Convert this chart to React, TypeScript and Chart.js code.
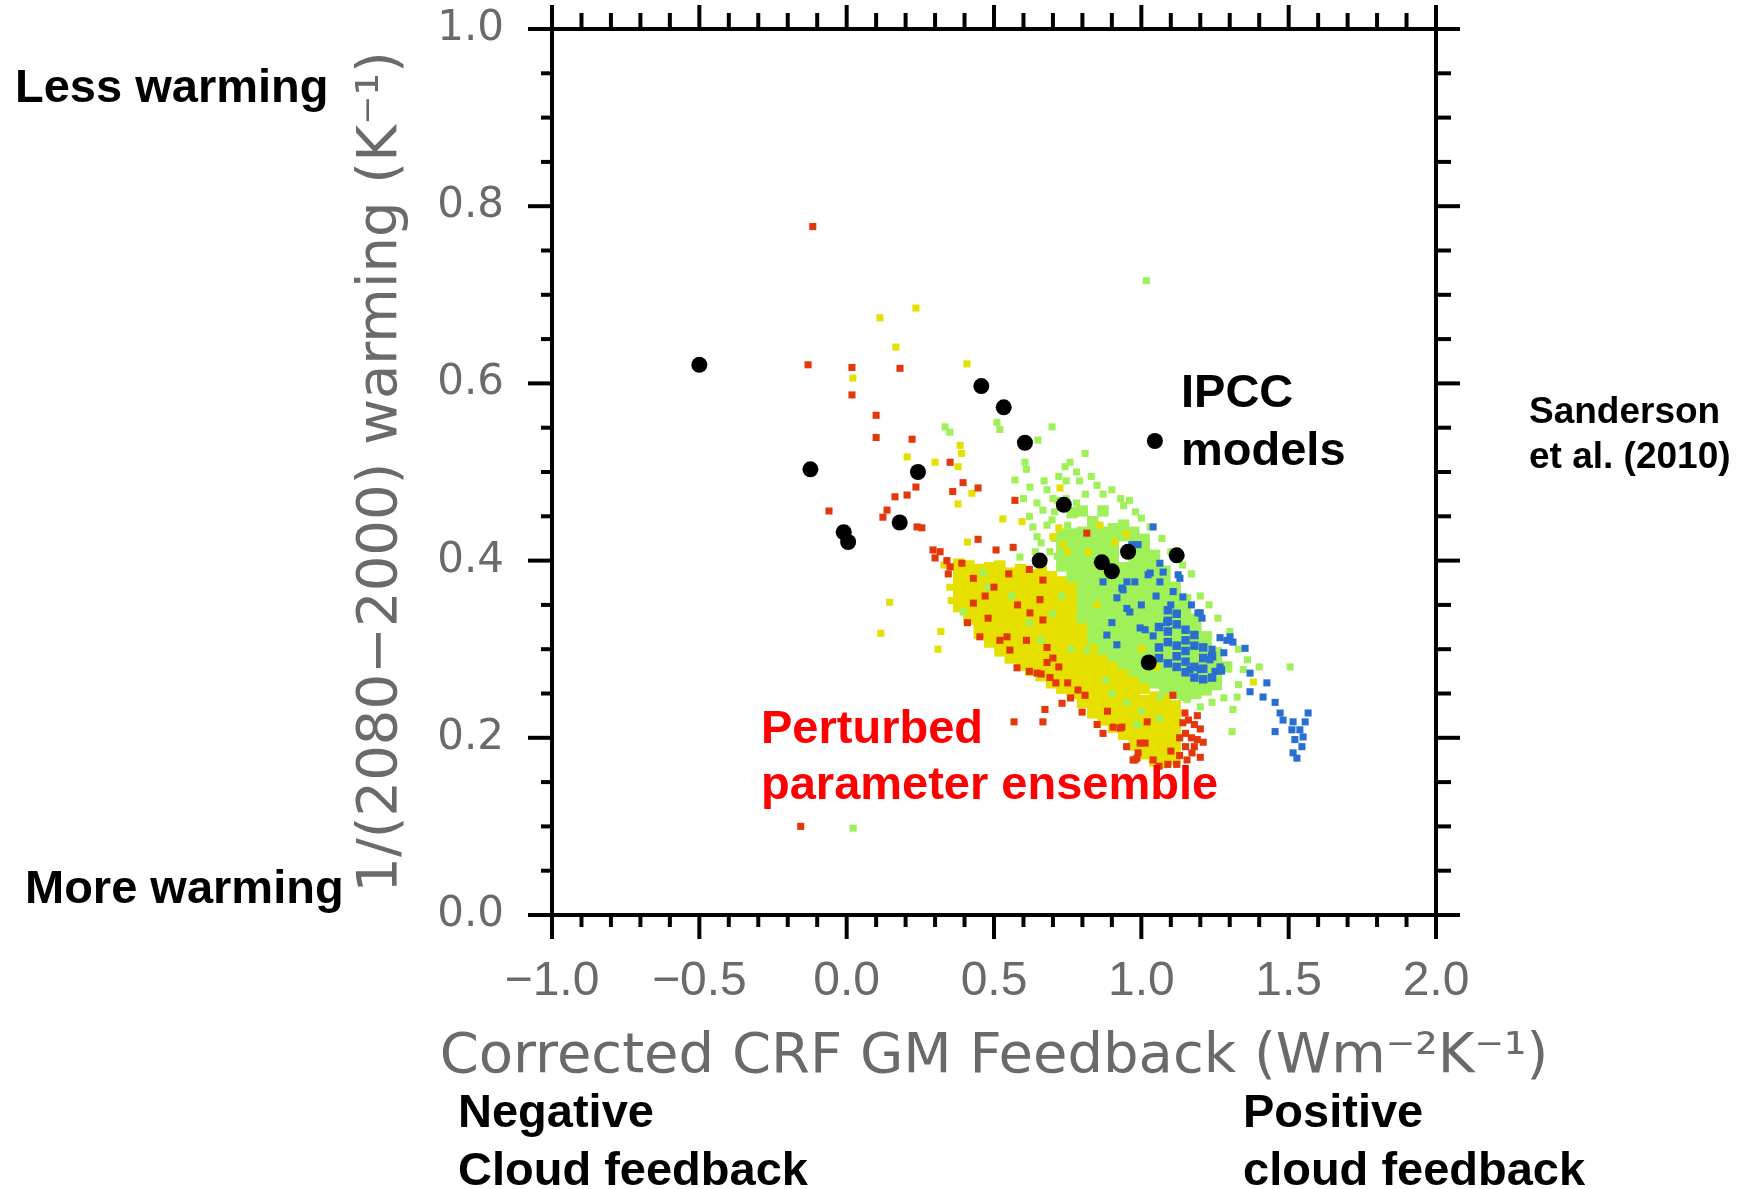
import React, { useEffect, useRef } from "react";
import { Chart, registerables } from "chart.js";

Chart.register(...registerables);

// ---------- tick labels & titles ----------
const X_TICKS = [-1, -0.5, 0, 0.5, 1, 1.5, 2];
const X_TICK_LABELS = ["\u22121.0", "\u22120.5", "0.0", "0.5", "1.0", "1.5", "2.0"];
const Y_TICKS = [0, 0.2, 0.4, 0.6, 0.8, 1.0];
const Y_TICK_LABELS = ["0.0", "0.2", "0.4", "0.6", "0.8", "1.0"];
const X_TITLE = "Corrected CRF GM Feedback (Wm\u207B\u00B2K\u207B\u00B9)";
const Y_TITLE = "1/(2080\u22122000) warming (K\u207B\u00B9)";

// ---------- data: [CRF feedback, 1/warming] ----------
const IPCC_MODELS: [number, number][] = [
  [-0.5, 0.621], [-0.123, 0.503], [-0.01, 0.432], [0.005, 0.421], [0.18, 0.443],
  [0.242, 0.5], [0.457, 0.597], [0.533, 0.573], [0.605, 0.533], [0.737, 0.463],
  [0.655, 0.4], [0.866, 0.398], [0.9, 0.388], [0.955, 0.41], [1.12, 0.406],
  [1.046, 0.535], [1.025, 0.285],
];

const YELLOW_CORE: [number, number][] = [
  [0.38, 0.348], [0.38, 0.36], [0.38, 0.372], [0.38, 0.384], [0.38, 0.396],
  [0.415, 0.334], [0.415, 0.346], [0.415, 0.358], [0.415, 0.37], [0.415, 0.382], [0.415, 0.394],
  [0.45, 0.318], [0.45, 0.33], [0.45, 0.342], [0.45, 0.354], [0.45, 0.366], [0.45, 0.378], [0.45, 0.39],
  [0.485, 0.308], [0.485, 0.32], [0.485, 0.332], [0.485, 0.344], [0.485, 0.356], [0.485, 0.368], [0.485, 0.38], [0.485, 0.392],
  [0.52, 0.298], [0.52, 0.31], [0.52, 0.322], [0.52, 0.334], [0.52, 0.346], [0.52, 0.358], [0.52, 0.37], [0.52, 0.382], [0.52, 0.394],
  [0.555, 0.29], [0.555, 0.302], [0.555, 0.314], [0.555, 0.326], [0.555, 0.338], [0.555, 0.35], [0.555, 0.362], [0.555, 0.374], [0.555, 0.386],
  [0.59, 0.282], [0.59, 0.294], [0.59, 0.306], [0.59, 0.318], [0.59, 0.33], [0.59, 0.342], [0.59, 0.354], [0.59, 0.366], [0.59, 0.378], [0.59, 0.39],
  [0.625, 0.276], [0.625, 0.288], [0.625, 0.3], [0.625, 0.312], [0.625, 0.324], [0.625, 0.336], [0.625, 0.348], [0.625, 0.36], [0.625, 0.372], [0.625, 0.384],
  [0.66, 0.27], [0.66, 0.282], [0.66, 0.294], [0.66, 0.306], [0.66, 0.318], [0.66, 0.33], [0.66, 0.342], [0.66, 0.354], [0.66, 0.366], [0.66, 0.378], [0.66, 0.39],
  [0.695, 0.262], [0.695, 0.274], [0.695, 0.286], [0.695, 0.298], [0.695, 0.31], [0.695, 0.322], [0.695, 0.334], [0.695, 0.346], [0.695, 0.358], [0.695, 0.37], [0.695, 0.382],
  [0.73, 0.256], [0.73, 0.268], [0.73, 0.28], [0.73, 0.292], [0.73, 0.304], [0.73, 0.316], [0.73, 0.328], [0.73, 0.34], [0.73, 0.352], [0.73, 0.364], [0.73, 0.376],
  [0.765, 0.25], [0.765, 0.262], [0.765, 0.274], [0.765, 0.286], [0.765, 0.298], [0.765, 0.31], [0.765, 0.322], [0.765, 0.334], [0.765, 0.346], [0.765, 0.358], [0.765, 0.37],
  [0.8, 0.24], [0.8, 0.252], [0.8, 0.264], [0.8, 0.276], [0.8, 0.288], [0.8, 0.3], [0.8, 0.312], [0.8, 0.324],
  [0.835, 0.228], [0.835, 0.24], [0.835, 0.252], [0.835, 0.264], [0.835, 0.276], [0.835, 0.288], [0.835, 0.3],
  [0.87, 0.22], [0.87, 0.232], [0.87, 0.244], [0.87, 0.256], [0.87, 0.268], [0.87, 0.28], [0.87, 0.29],
  [0.905, 0.212], [0.905, 0.224], [0.905, 0.236], [0.905, 0.248], [0.905, 0.26], [0.905, 0.272], [0.905, 0.282],
  [0.94, 0.204], [0.94, 0.216], [0.94, 0.228], [0.94, 0.24], [0.94, 0.252], [0.94, 0.264], [0.94, 0.274],
  [0.975, 0.192], [0.975, 0.204], [0.975, 0.216], [0.975, 0.228], [0.975, 0.24], [0.975, 0.252], [0.975, 0.264],
  [1.01, 0.182], [1.01, 0.194], [1.01, 0.206], [1.01, 0.218], [1.01, 0.23], [1.01, 0.242], [1.01, 0.256],
  [1.045, 0.174], [1.045, 0.186], [1.045, 0.198], [1.045, 0.21], [1.045, 0.222], [1.045, 0.234], [1.045, 0.246],
  [1.08, 0.172], [1.08, 0.184], [1.08, 0.196], [1.08, 0.208], [1.08, 0.22], [1.08, 0.232], [1.08, 0.244],
  [1.115, 0.176], [1.115, 0.188], [1.115, 0.2], [1.115, 0.212], [1.115, 0.224], [1.115, 0.236],
];

const GREEN_CORE: [number, number][] = [
  [0.73, 0.394], [0.73, 0.406], [0.73, 0.418], [0.73, 0.43],
  [0.765, 0.382], [0.765, 0.394], [0.765, 0.406], [0.765, 0.418], [0.765, 0.43], [0.765, 0.454],
  [0.8, 0.336], [0.8, 0.348], [0.8, 0.36], [0.8, 0.372], [0.8, 0.384], [0.8, 0.396], [0.8, 0.408], [0.8, 0.42], [0.8, 0.432], [0.8, 0.456],
  [0.835, 0.312], [0.835, 0.324], [0.835, 0.336], [0.835, 0.348], [0.835, 0.36], [0.835, 0.372], [0.835, 0.384], [0.835, 0.396], [0.835, 0.408], [0.835, 0.42], [0.835, 0.432], [0.835, 0.444],
  [0.87, 0.3], [0.87, 0.312], [0.87, 0.324], [0.87, 0.336], [0.87, 0.348], [0.87, 0.36], [0.87, 0.372], [0.87, 0.384], [0.87, 0.408], [0.87, 0.42], [0.87, 0.432], [0.87, 0.456],
  [0.905, 0.292], [0.905, 0.304], [0.905, 0.316], [0.905, 0.328], [0.905, 0.34], [0.905, 0.352], [0.905, 0.364], [0.905, 0.376], [0.905, 0.4], [0.905, 0.412], [0.905, 0.424], [0.905, 0.436],
  [0.94, 0.284], [0.94, 0.296], [0.94, 0.308], [0.94, 0.32], [0.94, 0.332], [0.94, 0.344], [0.94, 0.356], [0.94, 0.368], [0.94, 0.38], [0.94, 0.392], [0.94, 0.428], [0.94, 0.44],
  [0.975, 0.276], [0.975, 0.288], [0.975, 0.3], [0.975, 0.312], [0.975, 0.324], [0.975, 0.336], [0.975, 0.348], [0.975, 0.36], [0.975, 0.372], [0.975, 0.384], [0.975, 0.396], [0.975, 0.408], [0.975, 0.42], [0.975, 0.432],
  [1.01, 0.268], [1.01, 0.28], [1.01, 0.292], [1.01, 0.304], [1.01, 0.316], [1.01, 0.328], [1.01, 0.34], [1.01, 0.352], [1.01, 0.364], [1.01, 0.376], [1.01, 0.388], [1.01, 0.4], [1.01, 0.412], [1.01, 0.424],
  [1.045, 0.262], [1.045, 0.274], [1.045, 0.286], [1.045, 0.298], [1.045, 0.31], [1.045, 0.322], [1.045, 0.334], [1.045, 0.346], [1.045, 0.358], [1.045, 0.37], [1.045, 0.382], [1.045, 0.394], [1.045, 0.406],
  [1.08, 0.256], [1.08, 0.268], [1.08, 0.28], [1.08, 0.292], [1.08, 0.304], [1.08, 0.316], [1.08, 0.328], [1.08, 0.34], [1.08, 0.352], [1.08, 0.364], [1.08, 0.376], [1.08, 0.388],
  [1.115, 0.25], [1.115, 0.262], [1.115, 0.274], [1.115, 0.286], [1.115, 0.298], [1.115, 0.31], [1.115, 0.322], [1.115, 0.334], [1.115, 0.346], [1.115, 0.358], [1.115, 0.37],
  [1.15, 0.248], [1.15, 0.26], [1.15, 0.272], [1.15, 0.284], [1.15, 0.296], [1.15, 0.308], [1.15, 0.32], [1.15, 0.332], [1.15, 0.344], [1.15, 0.356],
  [1.185, 0.25], [1.185, 0.262], [1.185, 0.274], [1.185, 0.286], [1.185, 0.298], [1.185, 0.31], [1.185, 0.322], [1.185, 0.334],
  [1.22, 0.254], [1.22, 0.266], [1.22, 0.278], [1.22, 0.29], [1.22, 0.302], [1.22, 0.314],
  [1.255, 0.26], [1.255, 0.272], [1.255, 0.284], [1.255, 0.296],
  [1.29, 0.28],
];

const BLUE_CORE: [number, number][] = [
  [1.06, 0.29], [1.06, 0.302], [1.06, 0.325],
  [1.09, 0.284], [1.09, 0.308], [1.09, 0.32], [1.09, 0.332], [1.09, 0.344],
  [1.12, 0.28], [1.12, 0.292], [1.12, 0.304], [1.12, 0.328], [1.12, 0.34],
  [1.15, 0.274], [1.15, 0.286], [1.15, 0.298], [1.15, 0.31], [1.15, 0.322],
  [1.18, 0.268], [1.18, 0.28], [1.18, 0.304], [1.18, 0.316],
  [1.21, 0.266], [1.21, 0.278], [1.21, 0.29], [1.21, 0.302],
  [1.24, 0.268], [1.24, 0.292],
  [1.27, 0.276],
];

const BLUE_SCATTER: [number, number][] = [
  [1.04, 0.438], [0.989, 0.418], [0.968, 0.418], [1.125, 0.384], [1.063, 0.397], [1.074, 0.387],
  [1.023, 0.384], [0.951, 0.376], [0.978, 0.376], [0.934, 0.369], [0.87, 0.376], [0.917, 0.358],
  [0.951, 0.346], [1.141, 0.359], [1.2, 0.341], [1.206, 0.335], [1.03, 0.386], [1.131, 0.38],
  [1.063, 0.376], [0.938, 0.367], [0.961, 0.342], [0.996, 0.324], [1.013, 0.322], [0.883, 0.316],
  [0.917, 0.305], [1.192, 0.341], [1.267, 0.313], [1.29, 0.31], [1.311, 0.308], [1.352, 0.301],
  [1.301, 0.314], [1.233, 0.288], [1.267, 0.28], [1.165, 0.277], [1.2, 0.277], [1.25, 0.275],
  [1.369, 0.273], [1.426, 0.262], [1.369, 0.252], [1.413, 0.246], [1.454, 0.24], [1.471, 0.228],
  [1.481, 0.22], [1.515, 0.218], [1.566, 0.228], [1.538, 0.209], [1.511, 0.209], [1.454, 0.207],
  [1.521, 0.198], [1.549, 0.201], [1.515, 0.183], [1.528, 0.177], [1.556, 0.218], [1.545, 0.19],
  [1.086, 0.33], [1.0, 0.35], [0.9, 0.33], [1.05, 0.36], [1.108, 0.365], [1.17, 0.35],
  [1.24, 0.3], [1.28, 0.296], [1.04, 0.315], [1.1, 0.35],
];

const RED_SCATTER: [number, number][] = [
  [-0.115, 0.777], [-0.156, 0.1], [-0.131, 0.621], [0.018, 0.618], [0.181, 0.617], [0.018, 0.587],
  [0.1, 0.564], [0.1, 0.539], [0.222, 0.537], [0.351, 0.511], [-0.06, 0.456], [0.235, 0.483],
  [0.395, 0.488], [0.36, 0.478], [0.446, 0.482], [0.164, 0.472], [0.205, 0.474], [0.137, 0.457],
  [0.123, 0.449], [0.239, 0.438], [0.255, 0.437], [0.571, 0.468], [0.317, 0.41], [0.3, 0.403],
  [0.351, 0.393], [0.446, 0.424], [0.507, 0.412], [0.565, 0.415], [0.815, 0.431], [0.568, 0.218],
  [0.293, 0.412], [0.34, 0.4], [0.345, 0.385], [0.391, 0.397], [0.43, 0.352], [0.452, 0.314],
  [0.41, 0.33], [0.544, 0.314], [0.554, 0.299], [0.578, 0.279], [0.61, 0.31], [0.666, 0.333],
  [0.68, 0.302], [0.68, 0.285], [0.69, 0.268], [0.7, 0.29], [0.72, 0.28], [0.71, 0.262],
  [0.66, 0.272], [0.62, 0.275], [0.785, 0.254], [0.809, 0.248], [0.799, 0.229], [0.904, 0.212],
  [0.928, 0.211], [0.972, 0.175], [0.731, 0.239], [0.666, 0.218], [0.52, 0.31], [0.646, 0.273],
  [0.75, 0.262], [0.76, 0.245], [0.673, 0.232], [0.996, 0.194], [0.985, 0.177], [0.622, 0.341],
  [0.656, 0.356], [0.666, 0.378], [0.47, 0.36], [0.5, 0.37], [0.55, 0.385], [0.58, 0.35],
  [0.43, 0.38], [0.62, 0.39], [0.48, 0.335], [0.885, 0.23], [0.85, 0.215], [0.87, 0.205],
  [0.95, 0.19], [1.107, 0.248], [1.148, 0.228], [1.141, 0.217], [1.16, 0.22], [1.18, 0.215],
  [1.2, 0.21], [1.15, 0.205], [1.17, 0.2], [1.19, 0.198], [1.21, 0.195], [1.15, 0.19],
  [1.18, 0.19], [1.172, 0.183], [1.2, 0.178], [1.155, 0.175], [1.13, 0.18], [0.978, 0.175],
  [0.989, 0.183], [1.013, 0.194], [0.934, 0.212], [1.02, 0.218], [1.06, 0.168], [1.09, 0.17],
  [1.12, 0.17], [1.04, 0.175], [1.1, 0.185], [1.13, 0.2], [1.19, 0.225],
];

const YELLOW_SCATTER: [number, number][] = [
  [0.235, 0.685], [0.113, 0.674], [0.167, 0.641], [0.408, 0.622], [0.021, 0.606], [0.205, 0.517],
  [0.3, 0.511], [0.385, 0.53], [0.39, 0.521], [0.378, 0.506], [0.425, 0.476], [0.378, 0.464],
  [0.53, 0.447], [0.595, 0.444], [0.7, 0.427], [0.41, 0.421], [0.116, 0.318], [0.146, 0.353],
  [0.724, 0.482], [0.91, 0.421], [0.734, 0.418], [0.75, 0.41], [0.72, 0.437], [1.38, 0.263],
  [0.33, 0.395], [0.35, 0.37], [0.355, 0.355], [0.31, 0.3], [0.32, 0.32], [0.86, 0.44],
  [0.95, 0.43], [0.82, 0.41], [1.0, 0.3], [1.05, 0.28], [0.85, 0.35], [0.88, 0.39],
];

const GREEN_SCATTER: [number, number][] = [
  [1.017, 0.716], [0.022, 0.098], [0.334, 0.551], [0.35, 0.545], [0.51, 0.556], [0.52, 0.548],
  [0.697, 0.551], [0.649, 0.536], [0.605, 0.511], [0.61, 0.503], [0.571, 0.491], [0.622, 0.483],
  [0.68, 0.48], [0.646, 0.465], [0.666, 0.457], [0.697, 0.446], [0.632, 0.438], [0.646, 0.427],
  [0.588, 0.404], [0.809, 0.521], [0.758, 0.511], [0.741, 0.506], [0.72, 0.495], [0.7, 0.47],
  [0.68, 0.44], [0.69, 0.41], [0.705, 0.425], [0.79, 0.49], [0.85, 0.485], [0.87, 0.475],
  [0.93, 0.47], [0.98, 0.455], [1.505, 0.28], [1.308, 0.207], [1.346, 0.277], [1.325, 0.246],
  [1.33, 0.26], [1.4, 0.28], [1.311, 0.232], [1.063, 0.246], [1.155, 0.243], [1.2, 0.235],
  [1.24, 0.24], [1.28, 0.245], [0.463, 0.386], [0.395, 0.342], [0.815, 0.299], [0.62, 0.33],
  [0.56, 0.36], [0.7, 0.34], [0.76, 0.3], [0.88, 0.265], [0.9, 0.25], [0.95, 0.24],
  [1.0, 0.23], [0.73, 0.36], [0.66, 0.31], [0.48, 0.37], [0.985, 0.215], [1.06, 0.222],
  [0.62, 0.45], [0.64, 0.41], [0.66, 0.42], [0.705, 0.455], [0.715, 0.405], [0.6, 0.47],
  [0.67, 0.49], [0.715, 0.468], [0.745, 0.49], [0.78, 0.5], [0.83, 0.495], [0.96, 0.468],
  [1.0, 0.448], [1.03, 0.438], [1.07, 0.425], [1.1, 0.41], [1.14, 0.395], [1.17, 0.385],
  [1.2, 0.36], [1.23, 0.35], [1.26, 0.335], [1.3, 0.32], [1.33, 0.3], [1.36, 0.288],
  [0.745, 0.47], [0.78, 0.465], [0.81, 0.475], [0.9, 0.48], [0.94, 0.462], [0.75, 0.44],
];

// ---------- layout (pixels) ----------
const CANVAS_W = 1748;
const CANVAS_H = 1189;
const AREA = { left: 552, right: 1436, top: 29, bottom: 915 };
const LABEL_GRAY = "#6a6a6a";
const TITLE_FONT = "56px 'DejaVu Sans', sans-serif";
const X_TITLE_POS = { x: 994, y: 1072 };
const BOLD = "bold 47px 'Liberation Sans', Arial, Helvetica, sans-serif";
const BOLD_SMALL = "bold 37px 'Liberation Sans', Arial, Helvetica, sans-serif";
const NOTES = [
  { text: "Less warming", x: 15, y: 102, font: BOLD, color: "#000" },
  { text: "More warming", x: 25, y: 903, font: BOLD, color: "#000" },
  { text: "IPCC", x: 1181, y: 407, font: BOLD, color: "#000" },
  { text: "models", x: 1181, y: 465, font: BOLD, color: "#000" },
  { text: "Perturbed", x: 761, y: 743, font: BOLD, color: "#ff0000" },
  { text: "parameter ensemble", x: 761, y: 799, font: BOLD, color: "#ff0000" },
  { text: "Negative", x: 458, y: 1127, font: BOLD, color: "#000" },
  { text: "Cloud feedback", x: 458, y: 1185, font: BOLD, color: "#000" },
  { text: "Positive", x: 1243, y: 1127, font: BOLD, color: "#000" },
  { text: "cloud feedback", x: 1243, y: 1185, font: BOLD, color: "#000" },
  { text: "Sanderson", x: 1529, y: 423, font: BOLD_SMALL, color: "#000" },
  { text: "et al. (2010)", x: 1529, y: 468, font: BOLD_SMALL, color: "#000" },
];

const toXY = (arr: [number, number][]) => arr.map(([x, y]) => ({ x, y }));

const framePlugin = {
  id: "frameTicksNotes",
  afterDraw(chart: any) {
    const { ctx, chartArea: a, scales } = chart;
    const xs = scales.x;
    const ys = scales.y;
    ctx.save();
    ctx.strokeStyle = "#000";
    ctx.lineCap = "butt";
    ctx.lineWidth = 4;
    ctx.strokeRect(a.left, a.top, a.right - a.left, a.bottom - a.top);
    const seg = (x1: number, y1: number, x2: number, y2: number) => {
      ctx.beginPath();
      ctx.moveTo(x1, y1);
      ctx.lineTo(x2, y2);
      ctx.stroke();
    };
    // x ticks: major every 0.5, minor every 0.1
    for (let i = 0; i <= 30; i++) {
      const v = -1 + i / 10;
      const major = i % 5 === 0;
      const px = xs.getPixelForValue(v);
      seg(px, a.bottom, px, a.bottom + (major ? 24 : 12));
      seg(px, a.top, px, a.top - (major ? 24 : 16));
    }
    // y ticks: major every 0.2, minor every 0.05
    for (let i = 0; i <= 20; i++) {
      const v = i / 20;
      const major = i % 4 === 0;
      const py = ys.getPixelForValue(v);
      seg(a.left, py, a.left - (major ? 24 : 11), py);
      seg(a.right, py, a.right + (major ? 24 : 15), py);
    }
    // x axis title (drawn here so it is not squeezed to the plot width)
    ctx.font = TITLE_FONT;
    ctx.fillStyle = LABEL_GRAY;
    ctx.textAlign = "center";
    ctx.textBaseline = "alphabetic";
    ctx.fillText(X_TITLE, X_TITLE_POS.x, X_TITLE_POS.y);
    // annotations
    ctx.textAlign = "left";
    for (const n of NOTES) {
      ctx.font = n.font;
      ctx.fillStyle = n.color;
      ctx.fillText(n.text, n.x, n.y);
    }
    ctx.restore();
  },
};

export default function App() {
  const ref = useRef<HTMLCanvasElement | null>(null);

  useEffect(() => {
    if (!ref.current) return;
    const rect = (data: [number, number][], color: string, r: number, order: number) => ({
      data: toXY(data),
      pointStyle: "rect",
      pointRadius: r,
      pointHoverRadius: r,
      backgroundColor: color,
      borderWidth: 0,
      showLine: false,
      order,
    });
    const chart = new Chart(ref.current, {
      type: "scatter",
      data: {
        datasets: [
          {
            data: toXY(IPCC_MODELS),
            pointStyle: "circle",
            pointRadius: 8,
            pointHoverRadius: 8,
            backgroundColor: "#000",
            borderWidth: 0,
            showLine: false,
            order: 0,
          } as any,
          rect(BLUE_SCATTER, "#2a6ed2", 5, 1),
          rect(BLUE_CORE, "#2a6ed2", 6, 2),
          rect(RED_SCATTER, "#e4380c", 5, 3),
          rect(YELLOW_SCATTER, "#e6e000", 5, 4),
          rect(GREEN_SCATTER, "#a0f05a", 5, 5),
          rect(GREEN_CORE, "#a0f05a", 8, 6),
          rect(YELLOW_CORE, "#e6e000", 8, 7),
        ],
      },
      options: {
        responsive: false,
        devicePixelRatio: 1,
        animation: false,
        events: [],
        layout: {
          autoPadding: false,
          padding: { left: 0, top: AREA.top, right: CANVAS_W - AREA.right, bottom: 0 },
        },
        plugins: {
          legend: { display: false },
          tooltip: { enabled: false },
        },
        scales: {
          x: {
            type: "linear",
            position: "bottom",
            min: -1,
            max: 2,
            afterBuildTicks: (s: any) => {
              s.ticks = X_TICKS.map((v) => ({ value: v }));
            },
            afterFit: (s: any) => {
              s.height = CANVAS_H - AREA.bottom;
            },
            grid: {
              display: true,
              drawOnChartArea: false,
              drawTicks: true,
              tickLength: 38,
              tickColor: "rgba(0,0,0,0)",
            },
            border: { display: false },
            ticks: {
              padding: 0,
              autoSkip: false,
              maxRotation: 0,
              color: LABEL_GRAY,
              font: { family: "'Liberation Sans', Arial, sans-serif", size: 48 },
              callback: (_v: any, i: number) => X_TICK_LABELS[i],
            },
            title: { display: false },
          },
          y: {
            type: "linear",
            position: "left",
            min: 0,
            max: 1,
            afterBuildTicks: (s: any) => {
              s.ticks = Y_TICKS.map((v) => ({ value: v }));
            },
            afterFit: (s: any) => {
              s.width = AREA.left;
            },
            grid: {
              display: true,
              drawOnChartArea: false,
              drawTicks: true,
              tickLength: 48,
              tickColor: "rgba(0,0,0,0)",
            },
            border: { display: false },
            ticks: {
              padding: 0,
              autoSkip: false,
              color: LABEL_GRAY,
              font: { family: "'DejaVu Sans', sans-serif", size: 42 },
              callback: (_v: any, i: number) => Y_TICK_LABELS[i],
            },
            title: {
              display: true,
              text: Y_TITLE,
              color: LABEL_GRAY,
              font: { family: "'DejaVu Sans', sans-serif", size: 56 },
              padding: { top: 348, bottom: 0 },
            },
          },
        },
      } as any,
      plugins: [framePlugin],
    });
    return () => chart.destroy();
  }, []);

  return (
    <div
      style={{
        position: "absolute",
        left: 0,
        top: 0,
        width: CANVAS_W,
        height: CANVAS_H,
        background: "#fff",
      }}
    >
      <canvas
        ref={ref}
        width={CANVAS_W}
        height={CANVAS_H}
        style={{ display: "block", width: CANVAS_W, height: CANVAS_H }}
      />
    </div>
  );
}
